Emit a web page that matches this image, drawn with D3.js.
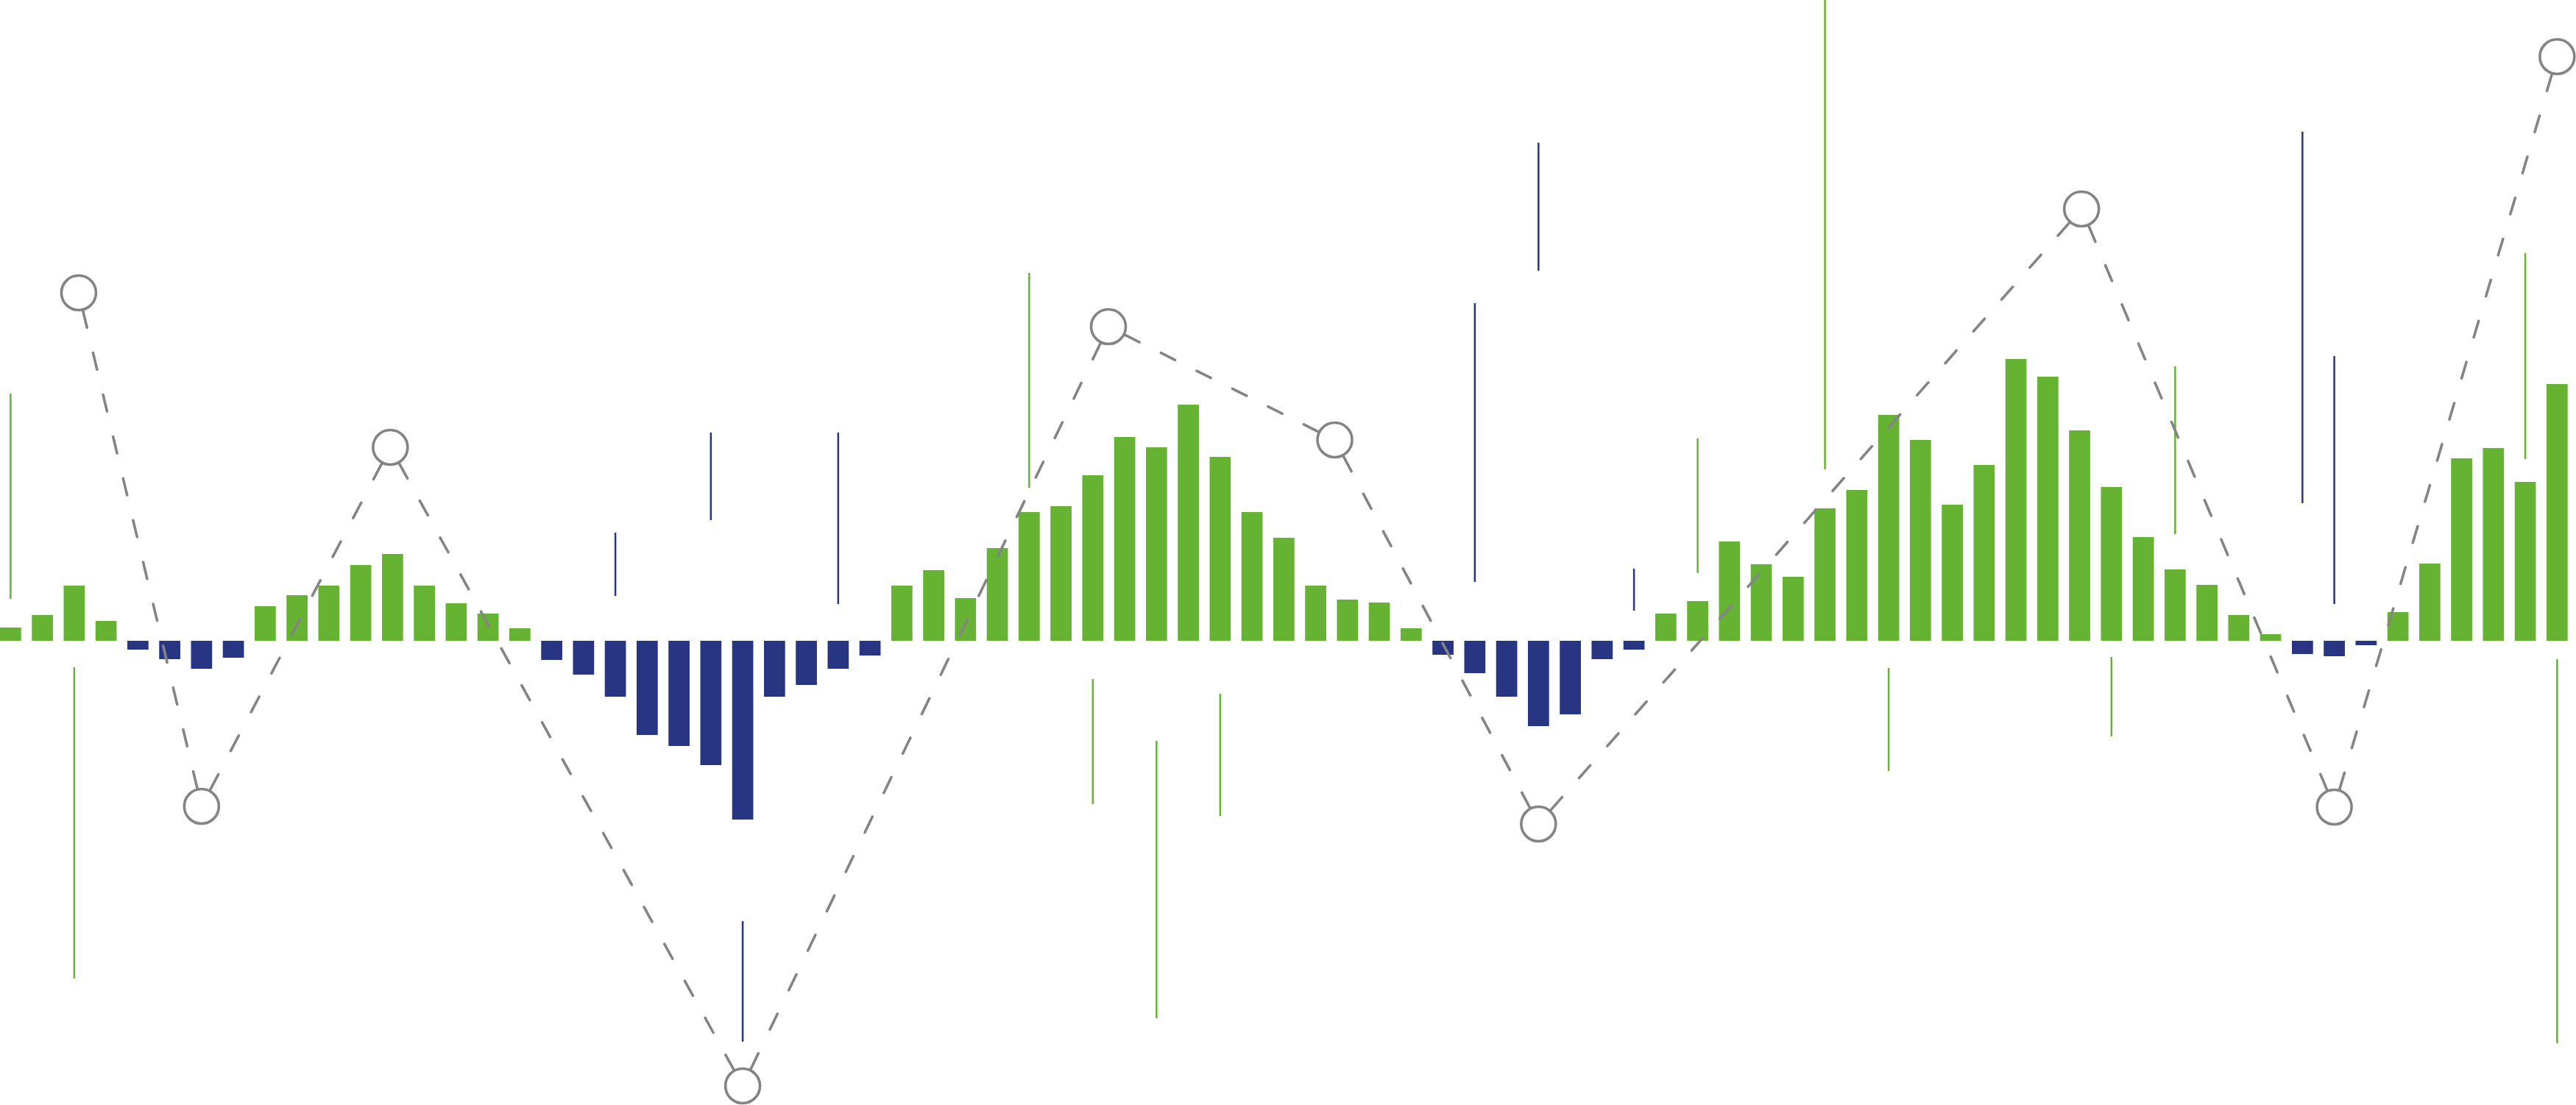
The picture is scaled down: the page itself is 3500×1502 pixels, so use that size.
<!DOCTYPE html>
<html>
<head>
<meta charset="utf-8">
<script src="https://cdn.jsdelivr.net/npm/d3@7"></script>
<style>
html,body{margin:0;padding:0;background:#ffffff;overflow:hidden}
svg{display:block}
</style>
</head>
<body>
<svg id="chart"></svg>
<script>
// ---- data ----
const barValues = [
  0.18, 0.35, 0.75, 0.27, -0.12, -0.25, -0.38, -0.23, 0.47, 0.62,
  0.75, 1.03, 1.18, 0.75, 0.51, 0.37, 0.17, -0.26, -0.46, -0.76,
  -1.28, -1.43, -1.69, -2.43, -0.76, -0.60, -0.38, -0.20, 0.75, 0.96,
  0.58, 1.26, 1.75, 1.83, 2.25, 2.77, 2.63, 3.21, 2.50, 1.75,
  1.40, 0.75, 0.56, 0.52, 0.17, -0.19, -0.44, -0.76, -1.16, -1.00,
  -0.25, -0.12, 0.37, 0.54, 1.35, 1.04, 0.87, 1.80, 2.05, 3.07,
  2.73, 1.85, 2.39, 3.83, 3.59, 2.86, 2.09, 1.41, 0.97, 0.76,
  0.35, 0.09, -0.18, -0.21, -0.06, 0.39, 1.05, 2.48, 2.62, 2.16,
  3.49
];

const wickIndex = [0, 2, 19, 22, 26, 23, 32, 34, 36, 38, 46, 48, 51, 53, 57, 59, 66, 68, 72, 73, 79, 80];
const wickHigh  = [3.36, -0.36, 1.47, 2.83, 2.83, -3.81, 5.00, -0.52, -1.36, -0.72, 4.59, 6.77, 0.98, 2.75, 8.80, -0.37, -0.22, 3.73, 6.92, 3.87, 5.27, -0.25];
const wickLow   = [0.57, -4.59, 0.61, 1.64, 0.50, -5.45, 2.08, -2.22, -5.13, -2.38, 0.80, 5.03, 0.41, 0.92, 2.33, -1.77, -1.30, 1.45, 1.87, 0.50, 2.47, -5.47];
const wickSide  = ["up", "up", "down", "down", "down", "down", "up", "up", "up", "up", "down", "down", "down", "up", "up", "up", "up", "up", "down", "down", "up", "up"];

const pivotPosition = [2.14, 6, 11.93, 23, 34.49, 41.6, 48, 65.06, 73, 80];
const pivotValue    = [4.73, -2.25, 2.63, -6.05, 4.27, 2.73, -2.49, 5.87, -2.26, 7.94];

// ---- layout ----
const W = 3500, H = 1502;
const colorUp = "#66b232";
const colorDown = "#283582";
const zigColor = "#848484";

const svg = d3.select("#chart").attr("width", W).attr("height", H);

const x = d3.scaleBand()
  .domain(d3.range(barValues.length))
  .range([0, 3488.7])
  .paddingInner(0.336)
  .paddingOuter(0);

const y = d3.scaleLinear().domain([-6.31, 8.71]).range([H, 0]);

const xc = d3.scaleLinear()
  .domain([0, barValues.length - 1])
  .range([x(0) + x.bandwidth() / 2, x(barValues.length - 1) + x.bandwidth() / 2]);

// bars
svg.append("g").selectAll("rect")
  .data(barValues)
  .join("rect")
  .attr("x", (d, i) => x(i))
  .attr("width", x.bandwidth())
  .attr("y", d => y(Math.max(0, d)))
  .attr("height", d => Math.abs(y(d) - y(0)))
  .attr("fill", d => d >= 0 ? colorUp : colorDown);

// wicks
const wicks = wickIndex.map((k, i) => ({k, hi: wickHigh[i], lo: wickLow[i], side: wickSide[i]}));
svg.append("g").selectAll("line")
  .data(wicks)
  .join("line")
  .attr("x1", d => xc(d.k))
  .attr("x2", d => xc(d.k))
  .attr("y1", d => y(d.hi))
  .attr("y2", d => y(d.lo))
  .attr("stroke", d => d.side === "up" ? colorUp : colorDown)
  .attr("stroke-width", 2.5);

// zigzag
const pts = pivotPosition.map((p, i) => ({px: xc(p), py: y(pivotValue[i])}));
const R = 23.5;
const dashLen = 23, gapLen = 35;
const segs = d3.pairs(pts).map(([a, b]) => {
  const dx = b.px - a.px, dy = b.py - a.py;
  const len = Math.hypot(dx, dy);
  const ux = dx / len, uy = dy / len;
  const off = R + 2;
  const L = len - 2 * off;
  const n = Math.max(1, Math.round((L + gapLen) / (dashLen + gapLen)));
  const k = L / (n * dashLen + (n - 1) * gapLen);
  return {
    x1: a.px + ux * off, y1: a.py + uy * off,
    x2: b.px - ux * off, y2: b.py - uy * off,
    dash: (dashLen * k).toFixed(2) + "," + (gapLen * k).toFixed(2)
  };
});
svg.append("g").selectAll("line")
  .data(segs)
  .join("line")
  .attr("x1", d => d.x1).attr("y1", d => d.y1)
  .attr("x2", d => d.x2).attr("y2", d => d.y2)
  .attr("stroke", zigColor)
  .attr("stroke-width", 3.6)
  .attr("stroke-linecap", "round")
  .attr("stroke-dasharray", d => d.dash);

svg.append("g").selectAll("circle")
  .data(pts)
  .join("circle")
  .attr("cx", d => d.px)
  .attr("cy", d => d.py)
  .attr("r", R)
  .attr("fill", "#ffffff")
  .attr("stroke", zigColor)
  .attr("stroke-width", 3.6);
</script>
</body>
</html>
